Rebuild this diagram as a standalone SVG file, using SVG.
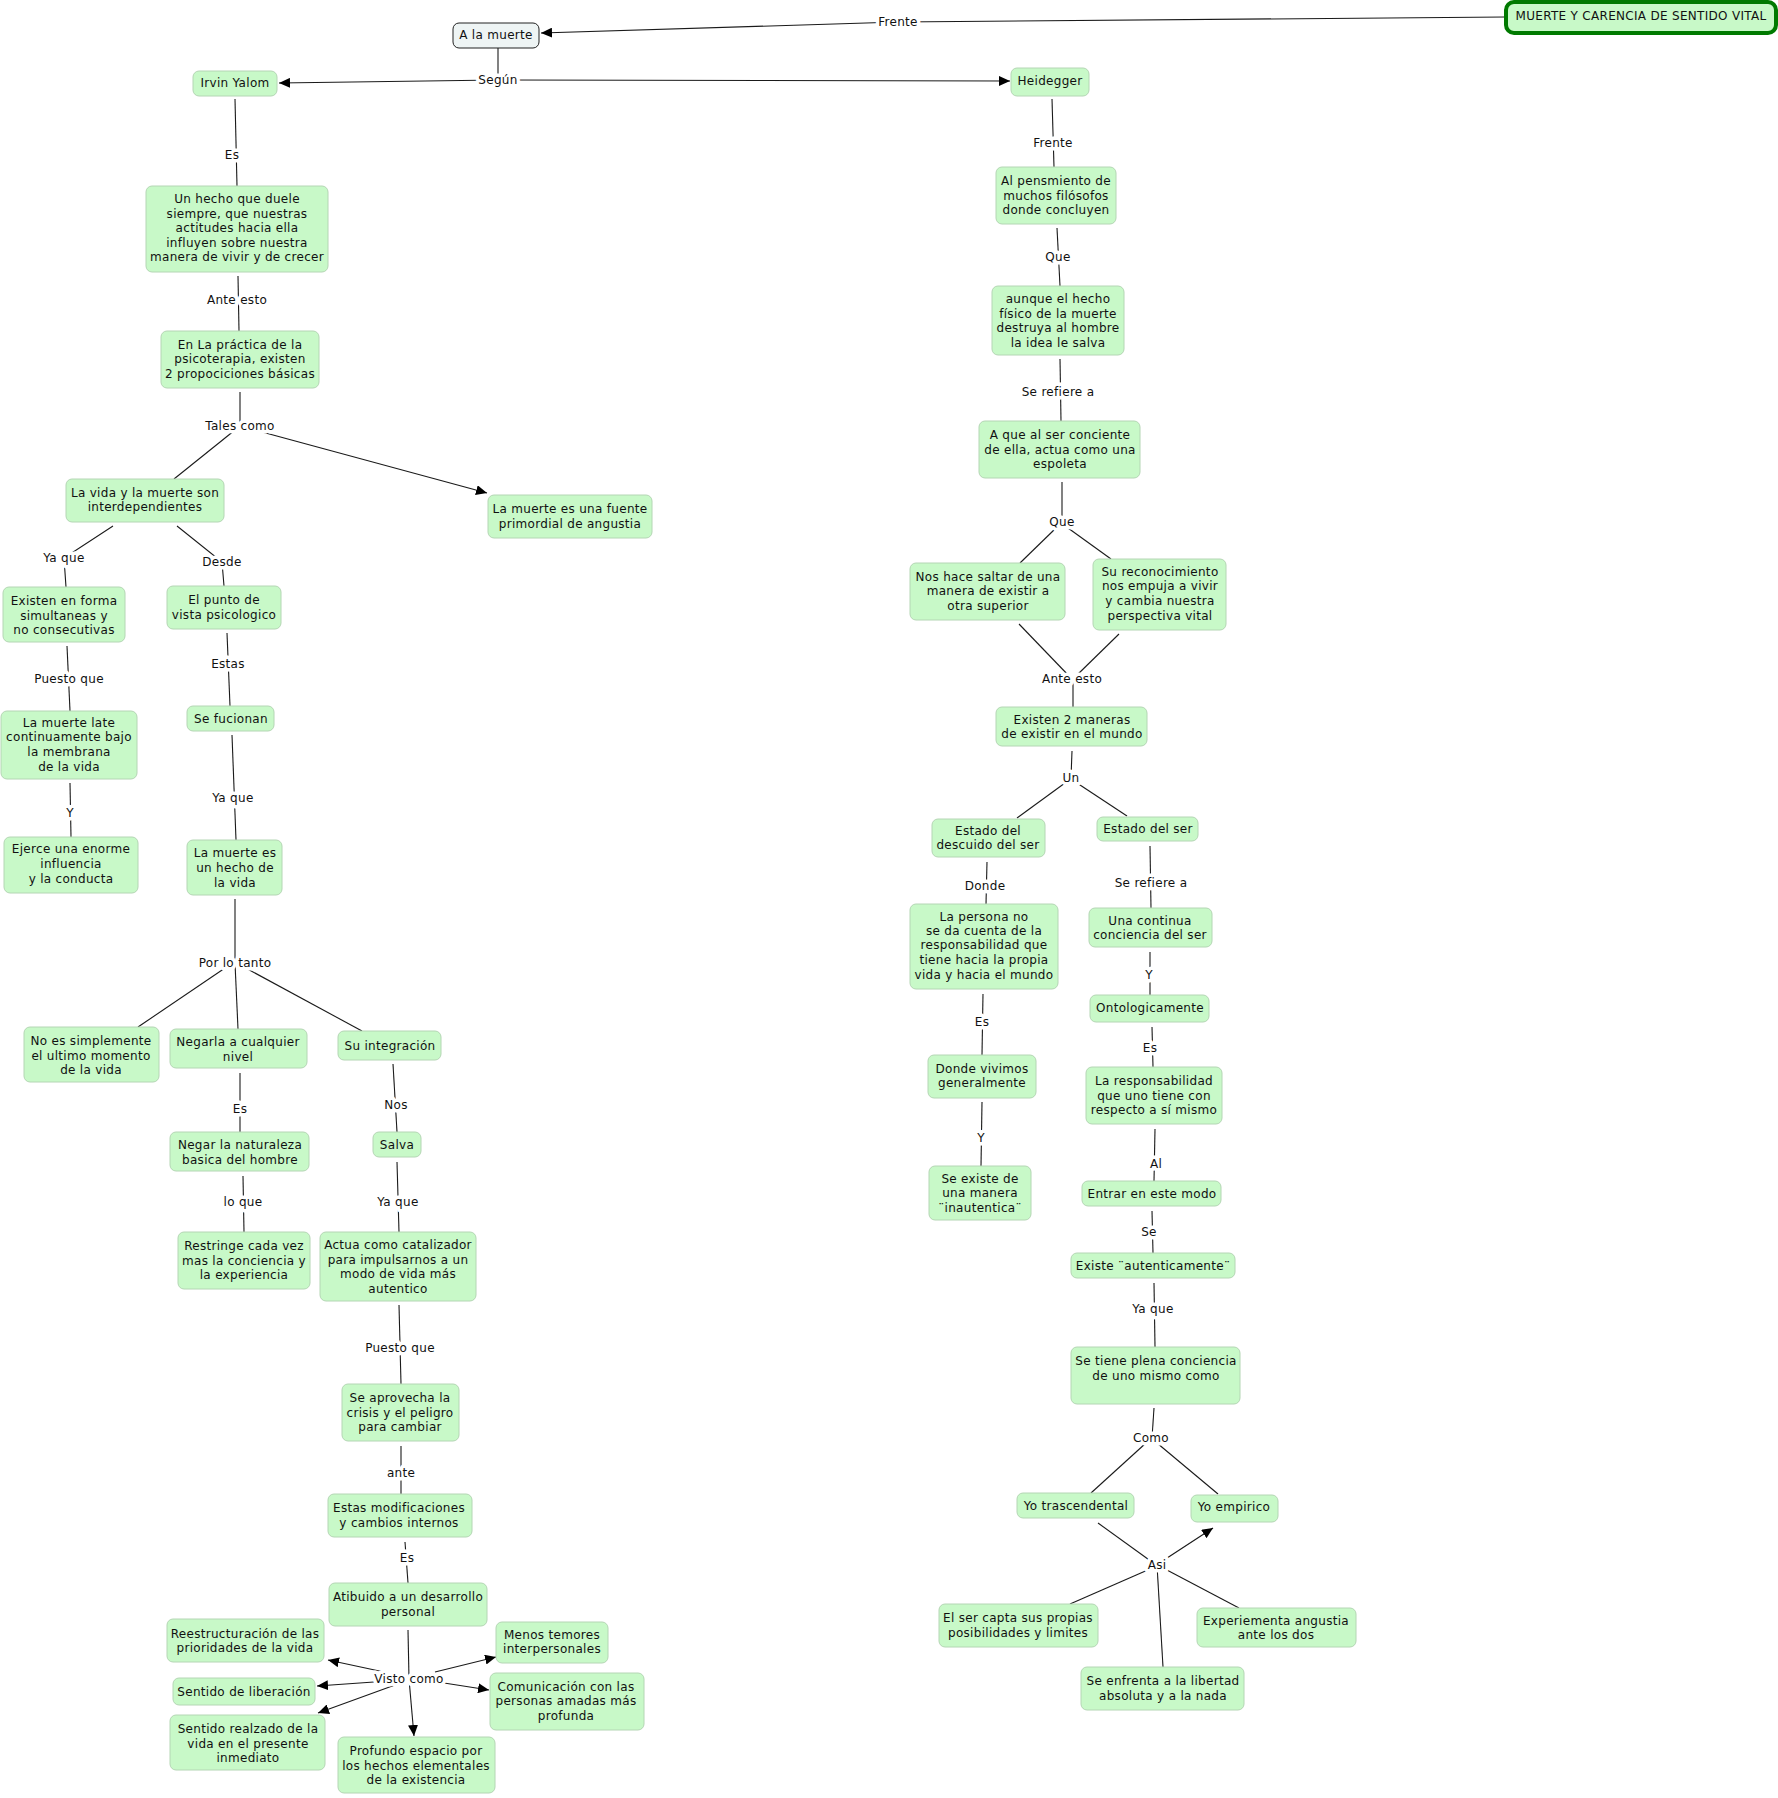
<svg xmlns="http://www.w3.org/2000/svg" width="1778" height="1798" viewBox="0 0 1778 1798">
<defs>
<marker id="arr" markerWidth="12" markerHeight="10" refX="11" refY="5" orient="auto" markerUnits="userSpaceOnUse">
<path d="M0,0 L11,5 L0,10 z" fill="#000"/>
</marker>
<style>
.n rect{fill:#C8F9C8;stroke:#B4D6B4;stroke-width:1}
.n text,.lb text{font-family:"DejaVu Sans","Verdana",sans-serif;font-size:12px;letter-spacing:0.3px;fill:#111;text-anchor:middle}
.c line,.c polyline{stroke:#1a1a1a;stroke-width:1.1;fill:none}
.lb text{paint-order:stroke;stroke:#fff;stroke-width:7px;stroke-linejoin:round}
.a{marker-end:url(#arr)}
</style>
</defs>
<rect width="1778" height="1798" fill="#fff"/>
<g id="connectors" class="c">
<line x1="1505" y1="17" x2="898" y2="22"/>
<line class="a" x1="898" y1="22" x2="541" y2="33"/>
<line x1="498" y1="48" x2="498" y2="80"/>
<line class="a" x1="498" y1="80" x2="279" y2="83"/>
<line class="a" x1="498" y1="80" x2="1010" y2="81"/>
<line x1="235" y1="99" x2="237" y2="186"/>
<line x1="238" y1="276" x2="239" y2="331"/>
<line x1="240" y1="392" x2="240" y2="426"/>
<line x1="240" y1="426" x2="174" y2="479"/>
<line class="a" x1="262" y1="432" x2="487" y2="493"/>
<polyline points="113,526 64,558 66,587"/>
<polyline points="177,526 222,562 224,586"/>
<line x1="67" y1="646" x2="70" y2="711"/>
<line x1="70" y1="783" x2="71" y2="837"/>
<line x1="227" y1="633" x2="230" y2="706"/>
<line x1="232" y1="735" x2="236" y2="840"/>
<line x1="235" y1="899" x2="235" y2="963"/>
<line x1="228" y1="966" x2="138" y2="1027"/>
<line x1="235" y1="963" x2="238" y2="1029"/>
<line x1="242" y1="966" x2="362" y2="1031"/>
<line x1="240" y1="1073" x2="240" y2="1132"/>
<line x1="243" y1="1176" x2="244" y2="1232"/>
<line x1="393" y1="1064" x2="397" y2="1132"/>
<line x1="397" y1="1162" x2="399" y2="1232"/>
<line x1="399" y1="1305" x2="401" y2="1384"/>
<line x1="401" y1="1446" x2="401" y2="1494"/>
<line x1="405" y1="1542" x2="408" y2="1583"/>
<line x1="408" y1="1630" x2="409" y2="1679"/>
<line class="a" x1="384" y1="1672" x2="328" y2="1660"/>
<line class="a" x1="374" y1="1682" x2="317" y2="1686"/>
<line class="a" x1="395" y1="1685" x2="318" y2="1713"/>
<line class="a" x1="435" y1="1672" x2="496" y2="1657"/>
<line class="a" x1="444" y1="1683" x2="489" y2="1690"/>
<line class="a" x1="409" y1="1679" x2="414" y2="1736"/>
<line x1="1052" y1="99" x2="1054" y2="167"/>
<line x1="1057" y1="228" x2="1060" y2="286"/>
<line x1="1060" y1="359" x2="1061" y2="421"/>
<line x1="1062" y1="482" x2="1062" y2="522"/>
<line x1="1056" y1="528" x2="1020" y2="563"/>
<line x1="1068" y1="528" x2="1111" y2="559"/>
<line x1="1019" y1="624" x2="1070" y2="677"/>
<line x1="1119" y1="634" x2="1075" y2="677"/>
<line x1="1073" y1="679" x2="1073" y2="707"/>
<line x1="1072" y1="751" x2="1071" y2="778"/>
<line x1="1065" y1="783" x2="1017" y2="818"/>
<line x1="1077" y1="783" x2="1127" y2="816"/>
<line x1="987" y1="862" x2="986" y2="904"/>
<line x1="1150" y1="846" x2="1151" y2="908"/>
<line x1="983" y1="994" x2="982" y2="1055"/>
<line x1="982" y1="1102" x2="981" y2="1166"/>
<line x1="1150" y1="952" x2="1150" y2="995"/>
<line x1="1152" y1="1027" x2="1153" y2="1067"/>
<line x1="1155" y1="1129" x2="1154" y2="1181"/>
<line x1="1152" y1="1211" x2="1153" y2="1253"/>
<line x1="1154" y1="1283" x2="1155" y2="1347"/>
<line x1="1154" y1="1408" x2="1152" y2="1438"/>
<line x1="1146" y1="1443" x2="1091" y2="1493"/>
<line x1="1157" y1="1443" x2="1218" y2="1494"/>
<line x1="1098" y1="1523" x2="1152" y2="1562"/>
<line class="a" x1="1164" y1="1560" x2="1213" y2="1528"/>
<line x1="1150" y1="1569" x2="1070" y2="1604"/>
<line x1="1157" y1="1565" x2="1163" y2="1667"/>
<line x1="1165" y1="1569" x2="1239" y2="1608"/>
</g>
<g id="labels" class="lb">
<text x="898" y="26">Frente</text>
<text x="498" y="84">Según</text>
<text x="232" y="159">Es</text>
<text x="237" y="304">Ante esto</text>
<text x="240" y="430">Tales como</text>
<text x="64" y="562">Ya que</text>
<text x="222" y="566">Desde</text>
<text x="69" y="683">Puesto que</text>
<text x="70" y="817">Y</text>
<text x="228" y="668">Estas</text>
<text x="233" y="802">Ya que</text>
<text x="235" y="967">Por lo tanto</text>
<text x="240" y="1113">Es</text>
<text x="243" y="1206">lo que</text>
<text x="396" y="1109">Nos</text>
<text x="398" y="1206">Ya que</text>
<text x="400" y="1352">Puesto que</text>
<text x="401" y="1477">ante</text>
<text x="407" y="1562">Es</text>
<text x="409" y="1683">Visto como</text>
<text x="1053" y="147">Frente</text>
<text x="1058" y="261">Que</text>
<text x="1058" y="396">Se refiere a</text>
<text x="1062" y="526">Que</text>
<text x="1072" y="683">Ante esto</text>
<text x="1071" y="782">Un</text>
<text x="985" y="890">Donde</text>
<text x="1151" y="887">Se refiere a</text>
<text x="982" y="1026">Es</text>
<text x="981" y="1142">Y</text>
<text x="1149" y="979">Y</text>
<text x="1150" y="1052">Es</text>
<text x="1156" y="1168">Al</text>
<text x="1149" y="1236">Se</text>
<text x="1153" y="1313">Ya que</text>
<text x="1151" y="1442">Como</text>
<text x="1157" y="1569">Asi</text>
</g>
<g id="main" class="n"><rect x="1506" y="2" width="270" height="31" rx="8" style="fill:#C8F9C8;stroke:#007A00;stroke-width:4"/><text x="1641" y="20">MUERTE Y CARENCIA DE SENTIDO VITAL</text></g>
<g id="a_la_muerte" class="n"><rect x="453" y="23" width="86" height="25" rx="6" style="fill:#EEF4F4;stroke:#222"/><text x="496" y="39">A la muerte</text></g>
<g id="irvin" class="n"><rect x="193" y="71" width="84" height="25" rx="6"/><text x="235" y="87">Irvin Yalom</text></g>
<g id="heidegger" class="n"><rect x="1011" y="68" width="78" height="28" rx="6"/><text x="1050" y="85">Heidegger</text></g>
<g id="hecho" class="n"><rect x="146" y="186" width="182" height="86" rx="6"/><text><tspan x="237" y="203">Un hecho que duele</tspan><tspan x="237" y="218">siempre, que nuestras</tspan><tspan x="237" y="232">actitudes hacia ella</tspan><tspan x="237" y="247">influyen sobre nuestra</tspan><tspan x="237" y="261">manera de vivir y de crecer</tspan></text></g>
<g id="practica" class="n"><rect x="161" y="331" width="158" height="57" rx="6"/><text><tspan x="240" y="349">En La práctica de la</tspan><tspan x="240" y="363">psicoterapia, existen</tspan><tspan x="240" y="378">2 propociciones básicas</tspan></text></g>
<g id="vida" class="n"><rect x="66" y="479" width="158" height="43" rx="6"/><text><tspan x="145" y="497">La vida y la muerte son</tspan><tspan x="145" y="511">interdependientes</tspan></text></g>
<g id="fuente" class="n"><rect x="488" y="495" width="164" height="43" rx="6"/><text><tspan x="570" y="513">La muerte es una fuente</tspan><tspan x="570" y="528">primordial de angustia</tspan></text></g>
<g id="simultaneas" class="n"><rect x="3" y="587" width="122" height="55" rx="6"/><text><tspan x="64" y="605">Existen en forma</tspan><tspan x="64" y="620">simultaneas y</tspan><tspan x="64" y="634">no consecutivas</tspan></text></g>
<g id="punto" class="n"><rect x="167" y="586" width="114" height="43" rx="6"/><text><tspan x="224" y="604">El punto de</tspan><tspan x="224" y="619">vista psicologico</tspan></text></g>
<g id="late" class="n"><rect x="1" y="711" width="136" height="68" rx="6"/><text><tspan x="69" y="727">La muerte late</tspan><tspan x="69" y="741">continuamente bajo</tspan><tspan x="69" y="756">la membrana</tspan><tspan x="69" y="771">de la vida</tspan></text></g>
<g id="ejerce" class="n"><rect x="4" y="837" width="134" height="56" rx="6"/><text><tspan x="71" y="853">Ejerce una enorme</tspan><tspan x="71" y="868">influencia</tspan><tspan x="71" y="883">y la conducta</tspan></text></g>
<g id="fucionan" class="n"><rect x="187" y="706" width="87" height="25" rx="6"/><text x="231" y="723">Se fucionan</text></g>
<g id="hecho_vida" class="n"><rect x="187" y="840" width="95" height="55" rx="6"/><text><tspan x="235" y="857">La muerte es</tspan><tspan x="235" y="872">un hecho de</tspan><tspan x="235" y="887">la vida</tspan></text></g>
<g id="no_es" class="n"><rect x="24" y="1027" width="135" height="55" rx="6"/><text><tspan x="91" y="1045">No es simplemente</tspan><tspan x="91" y="1060">el ultimo momento</tspan><tspan x="91" y="1074">de la vida</tspan></text></g>
<g id="negarla" class="n"><rect x="170" y="1029" width="137" height="39" rx="6"/><text><tspan x="238" y="1046">Negarla a cualquier</tspan><tspan x="238" y="1061">nivel</tspan></text></g>
<g id="integracion" class="n"><rect x="338" y="1031" width="103" height="29" rx="6"/><text x="390" y="1050">Su integración</text></g>
<g id="negar" class="n"><rect x="170" y="1132" width="139" height="39" rx="6"/><text><tspan x="240" y="1149">Negar la naturaleza</tspan><tspan x="240" y="1164">basica del hombre</tspan></text></g>
<g id="restringe" class="n"><rect x="178" y="1232" width="132" height="57" rx="6"/><text><tspan x="244" y="1250">Restringe cada vez</tspan><tspan x="244" y="1265">mas la conciencia y</tspan><tspan x="244" y="1279">la experiencia</tspan></text></g>
<g id="salva" class="n"><rect x="373" y="1132" width="48" height="25" rx="6"/><text x="397" y="1149">Salva</text></g>
<g id="actua" class="n"><rect x="320" y="1232" width="156" height="69" rx="6"/><text><tspan x="398" y="1249">Actua como catalizador</tspan><tspan x="398" y="1264">para impulsarnos a un</tspan><tspan x="398" y="1278">modo de vida más</tspan><tspan x="398" y="1293">autentico</tspan></text></g>
<g id="aprovecha" class="n"><rect x="342" y="1384" width="117" height="57" rx="6"/><text><tspan x="400" y="1402">Se aprovecha la</tspan><tspan x="400" y="1417">crisis y el peligro</tspan><tspan x="400" y="1431">para cambiar</tspan></text></g>
<g id="modificaciones" class="n"><rect x="328" y="1494" width="144" height="43" rx="6"/><text><tspan x="399" y="1512">Estas modificaciones</tspan><tspan x="399" y="1527">y cambios internos</tspan></text></g>
<g id="atibuido" class="n"><rect x="329" y="1583" width="158" height="43" rx="6"/><text><tspan x="408" y="1601">Atibuido a un desarrollo</tspan><tspan x="408" y="1616">personal</tspan></text></g>
<g id="reestructuracion" class="n"><rect x="167" y="1619" width="157" height="43" rx="6"/><text><tspan x="245" y="1638">Reestructuración de las</tspan><tspan x="245" y="1652">prioridades de la vida</tspan></text></g>
<g id="liberacion" class="n"><rect x="173" y="1678" width="142" height="27" rx="6"/><text x="244" y="1696">Sentido de liberación</text></g>
<g id="realzado" class="n"><rect x="170" y="1715" width="155" height="55" rx="6"/><text><tspan x="248" y="1733">Sentido realzado de la</tspan><tspan x="248" y="1748">vida en el presente</tspan><tspan x="248" y="1762">inmediato</tspan></text></g>
<g id="menos_temores" class="n"><rect x="496" y="1622" width="112" height="41" rx="6"/><text><tspan x="552" y="1639">Menos temores</tspan><tspan x="552" y="1653">interpersonales</tspan></text></g>
<g id="comunicacion" class="n"><rect x="490" y="1673" width="154" height="57" rx="6"/><text><tspan x="566" y="1691">Comunicación con las</tspan><tspan x="566" y="1705">personas amadas más</tspan><tspan x="566" y="1720">profunda</tspan></text></g>
<g id="profundo" class="n"><rect x="338" y="1737" width="157" height="56" rx="6"/><text><tspan x="416" y="1755">Profundo espacio por</tspan><tspan x="416" y="1770">los hechos elementales</tspan><tspan x="416" y="1784">de la existencia</tspan></text></g>
<g id="pensmiento" class="n"><rect x="996" y="167" width="120" height="57" rx="6"/><text><tspan x="1056" y="185">Al pensmiento de</tspan><tspan x="1056" y="200">muchos filósofos</tspan><tspan x="1056" y="214">donde concluyen</tspan></text></g>
<g id="aunque" class="n"><rect x="992" y="286" width="132" height="69" rx="6"/><text><tspan x="1058" y="303">aunque el hecho</tspan><tspan x="1058" y="318">físico de la muerte</tspan><tspan x="1058" y="332">destruya al hombre</tspan><tspan x="1058" y="347">la idea le salva</tspan></text></g>
<g id="espoleta" class="n"><rect x="979" y="421" width="161" height="57" rx="6"/><text><tspan x="1060" y="439">A que al ser conciente</tspan><tspan x="1060" y="454">de ella, actua como una</tspan><tspan x="1060" y="468">espoleta</tspan></text></g>
<g id="nos_hace" class="n"><rect x="910" y="563" width="155" height="57" rx="6"/><text><tspan x="988" y="581">Nos hace saltar de una</tspan><tspan x="988" y="595">manera de existir a</tspan><tspan x="988" y="610">otra superior</tspan></text></g>
<g id="reconocimiento" class="n"><rect x="1093" y="559" width="133" height="71" rx="6"/><text><tspan x="1160" y="576">Su reconocimiento</tspan><tspan x="1160" y="590">nos empuja a vivir</tspan><tspan x="1160" y="605">y cambia nuestra</tspan><tspan x="1160" y="620">perspectiva vital</tspan></text></g>
<g id="existen2" class="n"><rect x="996" y="707" width="151" height="39" rx="6"/><text><tspan x="1072" y="724">Existen 2 maneras</tspan><tspan x="1072" y="738">de existir en el mundo</tspan></text></g>
<g id="descuido" class="n"><rect x="932" y="819" width="113" height="38" rx="6"/><text><tspan x="988" y="835">Estado del</tspan><tspan x="988" y="849">descuido del ser</tspan></text></g>
<g id="estado_ser" class="n"><rect x="1097" y="817" width="101" height="24" rx="6"/><text x="1148" y="833">Estado del ser</text></g>
<g id="persona" class="n"><rect x="910" y="904" width="148" height="85" rx="6"/><text><tspan x="984" y="921">La persona no</tspan><tspan x="984" y="935">se da cuenta de la</tspan><tspan x="984" y="949">responsabilidad que</tspan><tspan x="984" y="964">tiene hacia la propia</tspan><tspan x="984" y="979">vida y hacia el mundo</tspan></text></g>
<g id="continua" class="n"><rect x="1089" y="908" width="123" height="39" rx="6"/><text><tspan x="1150" y="925">Una continua</tspan><tspan x="1150" y="939">conciencia del ser</tspan></text></g>
<g id="vivimos" class="n"><rect x="928" y="1055" width="108" height="43" rx="6"/><text><tspan x="982" y="1073">Donde vivimos</tspan><tspan x="982" y="1087">generalmente</tspan></text></g>
<g id="inautentica" class="n"><rect x="929" y="1166" width="102" height="54" rx="6"/><text><tspan x="980" y="1183">Se existe de</tspan><tspan x="980" y="1197">una manera</tspan><tspan x="980" y="1212">¨inautentica¨</tspan></text></g>
<g id="ontologicamente" class="n"><rect x="1090" y="995" width="119" height="27" rx="6"/><text x="1150" y="1012">Ontologicamente</text></g>
<g id="responsabilidad" class="n"><rect x="1086" y="1067" width="136" height="57" rx="6"/><text><tspan x="1154" y="1085">La responsabilidad</tspan><tspan x="1154" y="1100">que uno tiene con</tspan><tspan x="1154" y="1114">respecto a sí mismo</tspan></text></g>
<g id="entrar" class="n"><rect x="1082" y="1181" width="139" height="25" rx="6"/><text x="1152" y="1198">Entrar en este modo</text></g>
<g id="autenticamente" class="n"><rect x="1071" y="1253" width="164" height="25" rx="6"/><text x="1153" y="1270">Existe ¨autenticamente¨</text></g>
<g id="plena" class="n"><rect x="1071" y="1347" width="169" height="57" rx="6"/><text><tspan x="1156" y="1365">Se tiene plena conciencia</tspan><tspan x="1156" y="1380">de uno mismo como</tspan></text></g>
<g id="trascendental" class="n"><rect x="1017" y="1493" width="117" height="25" rx="6"/><text x="1076" y="1510">Yo trascendental</text></g>
<g id="empirico" class="n"><rect x="1191" y="1495" width="87" height="27" rx="6"/><text x="1234" y="1511">Yo empirico</text></g>
<g id="capta" class="n"><rect x="939" y="1604" width="159" height="43" rx="6"/><text><tspan x="1018" y="1622">El ser capta sus propias</tspan><tspan x="1018" y="1637">posibilidades y limites</tspan></text></g>
<g id="experiementa" class="n"><rect x="1197" y="1608" width="159" height="39" rx="6"/><text><tspan x="1276" y="1625">Experiementa angustia</tspan><tspan x="1276" y="1639">ante los dos</tspan></text></g>
<g id="enfrenta" class="n"><rect x="1081" y="1667" width="163" height="43" rx="6"/><text><tspan x="1163" y="1685">Se enfrenta a la libertad</tspan><tspan x="1163" y="1700">absoluta y a la nada</tspan></text></g>
</svg>
